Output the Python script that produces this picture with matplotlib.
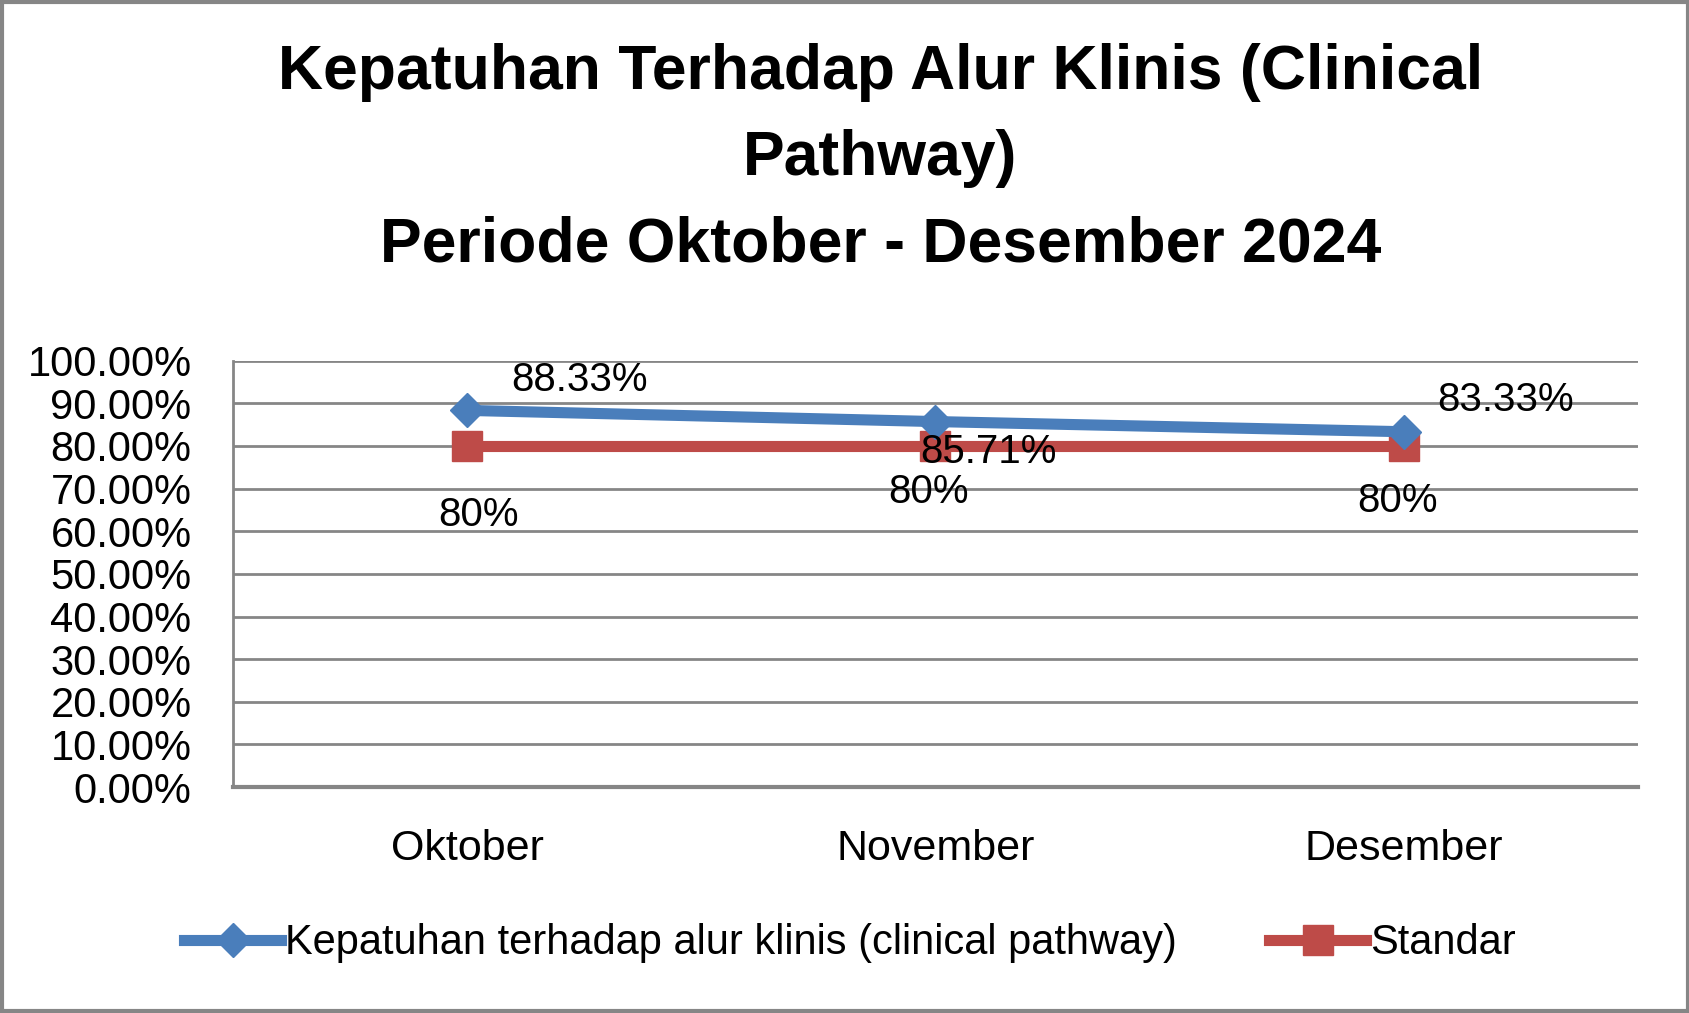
import matplotlib
matplotlib.use("Agg")
import matplotlib.pyplot as plt
from matplotlib.lines import Line2D
from matplotlib.patches import Rectangle

plt.rcParams['font.family'] = ['Liberation Sans Narrow', 'Liberation Sans', 'DejaVu Sans']

# data
bulan = ["Oktober", "November", "Desember"]
kepatuhan = [88.33, 85.71, 83.33]
standar = [80, 80, 80]
label_kepatuhan = ["88.33%", "85.71%", "83.33%"]
label_standar = ["80%", "80%", "80%"]
yticks = [0, 10, 20, 30, 40, 50, 60, 70, 80, 90, 100]

biru = "#4a7ebb"
merah = "#be4b48"
abu = "#868686"

fig = plt.figure(figsize=(16.9, 10.13), dpi=100)
ax = fig.add_axes([0.138, 0.223, 0.831, 0.421])

x = list(range(len(bulan)))
ax.plot(x, kepatuhan, color=biru, lw=8, marker="D", ms=17, mec=biru, mfc=biru, zorder=4)
ax.plot(x, standar, color=merah, lw=8, marker="s", ms=22, mec=merah, mfc=merah, zorder=3)

# label data (posisi mengikuti gambar asli)
off_k = [(32, 22), (-11, -22), (24, 23)]
for i, v in enumerate(kepatuhan):
    ax.annotate(label_kepatuhan[i], (x[i], v), xytext=off_k[i], textcoords="offset points",
                ha="left", va="center", fontsize=29, zorder=5)
off_s = [(8, -50), (-5, -33), (-4, -40)]
for i, v in enumerate(standar):
    ax.annotate(label_standar[i], (x[i], v), xytext=off_s[i], textcoords="offset points",
                ha="center", va="center", fontsize=29)

ax.set_xlim(-0.5, 2.5)
ax.set_ylim(0, 100)
ax.set_yticks(yticks)
ax.set_yticklabels(["%.2f%%" % t for t in yticks], fontsize=30)
ax.set_xticks(x)
ax.set_xticklabels(bulan, fontsize=31)
ax.tick_params(axis="both", length=0)
ax.tick_params(axis="x", pad=30)
ax.tick_params(axis="y", pad=30)
ax.grid(axis="y", color=abu, lw=2)
ax.set_axisbelow(True)
for s in ["top", "right"]:
    ax.spines[s].set_visible(False)
ax.spines["left"].set_color(abu)
ax.spines["left"].set_linewidth(2)
ax.spines["bottom"].set_color(abu)
ax.spines["bottom"].set_linewidth(3)

fig.text(0.521, 0.958, "Kepatuhan Terhadap Alur Klinis (Clinical\nPathway)\nPeriode Oktober - Desember 2024",
         ha="center", va="top", fontsize=45, fontweight="bold", linespacing=1.6)

handles = [
    Line2D([], [], color=biru, lw=8, marker="D", ms=17),
    Line2D([], [], color=merah, lw=8, marker="s", ms=22),
]
fig.legend(handles, ["Kepatuhan terhadap alur klinis (clinical pathway)", "Standar"],
           loc="center", bbox_to_anchor=(0.503, 0.069), ncol=2, frameon=False,
           fontsize=30, handlelength=2.33, handletextpad=0.1, columnspacing=2.2)

fig.add_artist(Rectangle((0.001, 0.002), 0.998, 0.996, transform=fig.transFigure,
                         fill=False, edgecolor=abu, lw=3))

fig.savefig("out.png", dpi=100)
